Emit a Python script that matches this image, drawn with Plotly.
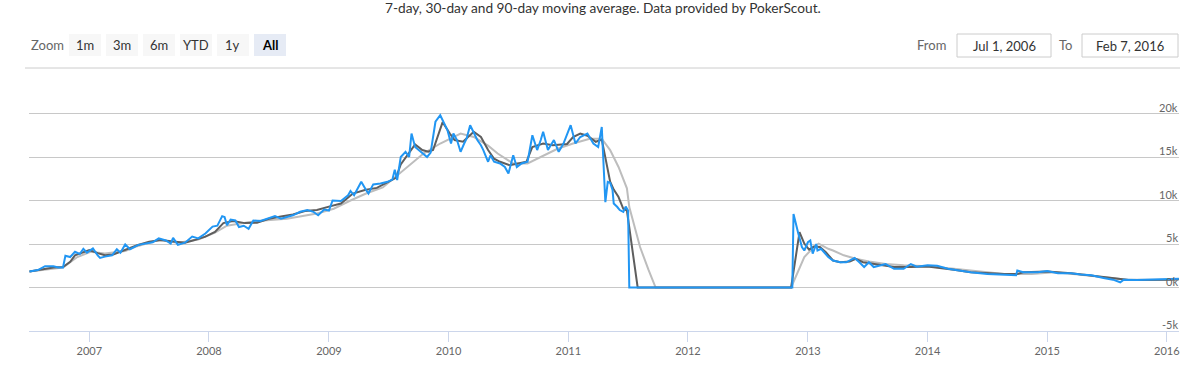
import datetime as dt
import plotly.graph_objects as go

# ---------------- data (decimal year, value) ----------------
blue_t = [2006.50, 2006.57, 2006.63, 2006.70, 2006.74, 2006.78, 2006.80, 2006.84, 2006.88, 2006.92,
          2006.95, 2006.98, 2007.01, 2007.03, 2007.07, 2007.09, 2007.13, 2007.19, 2007.23, 2007.26,
          2007.30, 2007.34, 2007.41, 2007.47, 2007.53, 2007.58, 2007.64, 2007.68, 2007.70, 2007.74,
          2007.80, 2007.86, 2007.91, 2007.97, 2008.03, 2008.07, 2008.11, 2008.13, 2008.15, 2008.18,
          2008.22, 2008.25, 2008.29, 2008.33, 2008.37, 2008.43, 2008.51, 2008.55, 2008.60, 2008.65,
          2008.70, 2008.76, 2008.82, 2008.87, 2008.91, 2008.96, 2009.00, 2009.03, 2009.10, 2009.16,
          2009.18, 2009.21, 2009.27, 2009.31, 2009.33, 2009.37, 2009.43, 2009.49, 2009.53, 2009.55,
          2009.57, 2009.60, 2009.64, 2009.67, 2009.69, 2009.72, 2009.77, 2009.82, 2009.85, 2009.89,
          2009.93, 2009.95, 2009.99, 2010.02, 2010.04, 2010.07, 2010.10, 2010.13, 2010.15, 2010.18,
          2010.21, 2010.24, 2010.27, 2010.29, 2010.33, 2010.35, 2010.38, 2010.43, 2010.47, 2010.50,
          2010.54, 2010.57, 2010.61, 2010.66, 2010.70, 2010.74, 2010.77, 2010.79, 2010.83, 2010.88,
          2010.92, 2010.96, 2011.02, 2011.06, 2011.10, 2011.16, 2011.21, 2011.25, 2011.28, 2011.29,
          2011.31, 2011.33, 2011.35, 2011.37, 2011.38, 2011.41, 2011.43, 2011.46, 2011.48, 2011.50,
          2011.51, 2012.87, 2012.88, 2012.92, 2012.95, 2012.97, 2013.00, 2013.02, 2013.04, 2013.07,
          2013.08, 2013.11, 2013.17, 2013.21, 2013.27, 2013.32, 2013.39, 2013.43, 2013.47, 2013.51,
          2013.55, 2013.61, 2013.65, 2013.72, 2013.80, 2013.86, 2013.91, 2014.00, 2014.08, 2014.17,
          2014.25, 2014.36, 2014.50, 2014.64, 2014.74, 2014.75, 2014.80, 2014.92, 2015.00, 2015.09,
          2015.20, 2015.28, 2015.37, 2015.47, 2015.55, 2015.61, 2015.64, 2015.75, 2015.87, 2015.95,
          2016.03, 2016.10]
blue_v = [1850, 2000, 2450, 2450, 2300, 2300, 3650, 3500, 4100, 3850,
          4450, 4000, 4300, 4500, 3700, 3400, 3550, 3700, 4400, 4000,
          4950, 4400, 4900, 5050, 5200, 5650, 5400, 5050, 5700, 4900,
          5150, 5850, 5650, 6200, 7000, 7100, 8200, 8100, 7150, 7800,
          7700, 6950, 7100, 6750, 7700, 7650, 8050, 8200, 7900, 8100,
          8300, 8700, 8900, 8700, 8300, 8950, 8850, 10000, 9950, 10600,
          11100, 10600, 12150, 11200, 10800, 11850, 11950, 12150, 12400, 13550,
          12350, 15000, 15600, 15000, 17700, 16150, 15600, 15000, 15500, 19050,
          19800, 19250, 18100, 16550, 17700, 16950, 15600, 16550, 17100, 18650,
          17700, 16950, 16350, 15800, 14450, 15200, 14450, 14250, 13850, 13100,
          15200, 13850, 14250, 14450, 17500, 15800, 16950, 17900, 15800, 16950,
          15600, 16550, 18650, 16550, 17300, 17700, 16550, 16150, 18450, 15000,
          9800, 12150, 12050, 11200, 9650, 9250, 8900, 8700, 9300, 8850,
          0, 0, 8450, 6200, 4650, 4250, 5200, 5400, 3900, 5000,
          4250, 4450, 3500, 3100, 2900, 2900, 3400, 2900, 2350, 2900,
          2350, 2550, 2700, 2150, 2150, 2700, 2400, 2550, 2500, 2150,
          1950, 1750, 1550, 1500, 1400, 1950, 1750, 1750, 1900, 1650,
          1650, 1500, 1400, 1100, 900, 600, 900, 850, 900, 900,
          1000, 1000]

dark_t = [2006.50, 2006.60, 2006.70, 2006.78, 2006.84, 2006.88, 2007.00, 2007.07, 2007.13, 2007.20,
          2007.30, 2007.40, 2007.50, 2007.60, 2007.70, 2007.80, 2007.88, 2007.97, 2008.05, 2008.12,
          2008.20, 2008.30, 2008.40, 2008.50, 2008.60, 2008.70, 2008.80, 2008.90, 2009.00, 2009.10,
          2009.20, 2009.30, 2009.40, 2009.50, 2009.56, 2009.60, 2009.66, 2009.72, 2009.78, 2009.83,
          2009.87, 2009.93, 2009.95, 2010.01, 2010.05, 2010.12, 2010.21, 2010.27, 2010.33, 2010.38,
          2010.43, 2010.51, 2010.59, 2010.65, 2010.70, 2010.79, 2010.87, 2010.99, 2011.04, 2011.10,
          2011.16, 2011.23, 2011.28, 2011.31, 2011.35, 2011.38, 2011.42, 2011.46, 2011.49, 2011.58,
          2012.86, 2012.93, 2012.97, 2013.01, 2013.05, 2013.10, 2013.15, 2013.21, 2013.27, 2013.35,
          2013.40, 2013.46, 2013.58, 2013.72, 2013.86, 2014.00, 2014.22, 2014.36, 2014.64, 2014.75,
          2014.80, 2015.00, 2015.20, 2015.37, 2015.56, 2015.68, 2015.81, 2016.03, 2016.10]
dark_v = [1850, 2100, 2300, 2350, 2950, 3700, 4300, 3950, 3700, 3800,
          4300, 4850, 5250, 5450, 5300, 5150, 5450, 5850, 6400, 7400,
          7650, 7400, 7450, 7900, 8150, 8400, 8800, 8900, 9300, 9650,
          10800, 11200, 11450, 12200, 12600, 14150, 15300, 16450, 15800, 15600,
          15800, 18100, 19000, 17700, 16950, 16750, 17900, 17300, 15800, 14800,
          14450, 14050, 14250, 14450, 16150, 16550, 16350, 16500, 17300, 17700,
          17450, 16750, 17000, 14800, 12150, 11250, 10400, 9050, 8850, 0,
          0, 6350, 5050, 4350, 4700, 4650, 4050, 3100, 2900, 3000,
          3300, 2900, 2650, 2350, 2350, 2400, 2050, 1750, 1550, 1550,
          1750, 1850, 1650, 1400, 1050, 850, 850, 900, 950]

light_t = [2006.50, 2006.78, 2006.90, 2007.01, 2007.13, 2007.30, 2007.40, 2007.58, 2007.74, 2007.91,
           2008.05, 2008.15, 2008.37, 2008.65, 2008.90, 2009.04, 2009.18, 2009.31, 2009.45, 2009.52,
           2009.58, 2009.66, 2009.79, 2009.93, 2010.10, 2010.21, 2010.33, 2010.41, 2010.49, 2010.54,
           2010.66, 2010.77, 2010.91, 2011.04, 2011.18, 2011.28, 2011.35, 2011.42, 2011.49, 2011.51,
           2011.60, 2011.67, 2011.73, 2012.86, 2012.91, 2012.97, 2013.05, 2013.09, 2013.17, 2013.21,
           2013.30, 2013.40, 2013.51, 2013.65, 2013.80, 2014.00, 2014.22, 2014.42, 2014.64, 2014.87,
           2015.06, 2015.26, 2015.47, 2015.67, 2015.89, 2016.03, 2016.10]
light_v = [1850, 2300, 3500, 4100, 3900, 4200, 4750, 5450, 5150, 5500,
           6300, 7100, 7600, 7900, 8500, 9050, 10000, 10800, 11500, 12300,
           13000, 13850, 15400, 16550, 17700, 17300, 16300, 15400, 14650, 14250,
           14250, 15000, 15950, 16550, 17100, 17100, 15800, 13850, 11400, 9250,
           4650, 2050, 0, 0, 1600, 3500, 4650, 5050, 4450, 4250,
           3700, 3300, 3000, 2700, 2550, 2450, 2150, 1900, 1550, 1550,
           1750, 1500, 1200, 900, 900, 950, 950]

x_tick_years = [2007, 2008, 2009, 2010, 2011, 2012, 2013, 2014, 2015, 2016]
y_tick_vals = [-5000, 0, 5000, 10000, 15000, 20000]
y_tick_text = ["-5k", "0k", "5k", "10k", "15k", "20k"]
zoom_buttons = ["1m", "3m", "6m", "YTD", "1y", "All"]
date_from = "Jul 1, 2006"
date_to = "Feb 7, 2016"
subtitle = "7-day, 30-day and 90-day moving average. Data provided by PokerScout."


def to_date(y):
    year = int(y)
    start = dt.datetime(year, 1, 1)
    days = (dt.datetime(year + 1, 1, 1) - start).days
    return start + dt.timedelta(days=(y - year) * days)


FONT = "Lato"
fig = go.Figure()
for t, v, color in [(light_t, light_v, "#bdbdbd"),
                    (dark_t, dark_v, "#5e5e5e"),
                    (blue_t, blue_v, "#2196f3")]:
    fig.add_trace(go.Scatter(x=[to_date(a) for a in t], y=v, mode="lines",
                             line=dict(color=color, width=2), hoverinfo="skip",
                             showlegend=False))

W, H = 1184, 385
L, R, T, B = 29, 5, 70, 54
PW, PH = W - L - R, H - T - B

fig.update_layout(
    width=W, height=H, margin=dict(l=L, r=R, t=T, b=B),
    paper_bgcolor="white", plot_bgcolor="white",
    font=dict(family=FONT, color="#666666", size=11),
    xaxis=dict(range=[dt.datetime(2006, 7, 1), dt.datetime(2016, 2, 7)],
               type="date",
               tickvals=[dt.datetime(yv, 1, 1) for yv in x_tick_years],
               ticktext=[str(yv) for yv in x_tick_years],
               showgrid=False, showline=True, linecolor="#ccd6eb", linewidth=1,
               ticks="outside", ticklen=10, tickcolor="#ccd6eb",
               tickfont=dict(size=11, color="#666666"), zeroline=False),
    yaxis=dict(range=[-5000, 25000], side="right", tickvals=y_tick_vals,
               showticklabels=False,
               showgrid=True, gridcolor="#c8c8c8", gridwidth=1, zeroline=False,
               showline=False),
)


def px(x):
    return (x - L) / PW


def py(y):
    return (H - B - y) / PH


shapes = []
annotations = []
# y-axis labels, right-aligned just above their grid lines
for v, t in zip(y_tick_vals, y_tick_text):
    annotations.append(dict(xref="paper", yref="y", x=1.0, y=v, text=t, showarrow=False,
                            xanchor="right", yanchor="bottom", xshift=1, yshift=-2,
                            font=dict(size=11, color="#666666", family=FONT)))
# subtitle
annotations.append(dict(xref="paper", yref="paper", x=px(603), y=py(7.5), text=subtitle,
                        showarrow=False, xanchor="center", yanchor="middle",
                        font=dict(size=13.7, color="#333333", family=FONT)))
# zoom label
annotations.append(dict(xref="paper", yref="paper", x=px(29), y=py(45), text="Zoom",
                        showarrow=False, xanchor="left", yanchor="middle",
                        font=dict(size=13, color="#666666", family=FONT)))
for i, lab in enumerate(zoom_buttons):
    x0 = 69 + i * 37
    x1 = x0 + 32
    sel = lab == "All"
    shapes.append(dict(type="rect", xref="paper", yref="paper", x0=px(x0), x1=px(x1),
                       y0=py(56), y1=py(34), fillcolor="#e6ebf5" if sel else "#f7f7f7",
                       line=dict(width=0), layer="below"))
    annotations.append(dict(xref="paper", yref="paper", x=px((x0 + x1) / 2), y=py(45),
                            text=f"<b>{lab}</b>" if sel else lab, showarrow=False,
                            xanchor="center", yanchor="middle",
                            font=dict(size=13, color="#000000" if sel else "#333333", family=FONT)))
# from / to
annotations.append(dict(xref="paper", yref="paper", x=px(948), y=py(45), text="From",
                        showarrow=False, xanchor="right", yanchor="middle",
                        font=dict(size=13, color="#666666", family=FONT)))
annotations.append(dict(xref="paper", yref="paper", x=px(1074), y=py(45), text="To",
                        showarrow=False, xanchor="right", yanchor="middle",
                        font=dict(size=13, color="#666666", family=FONT)))
for (x0, x1, txt) in [(957, 1051, date_from), (1082, 1178, date_to)]:
    shapes.append(dict(type="rect", xref="paper", yref="paper", x0=px(x0), x1=px(x1),
                       y0=py(57), y1=py(34), fillcolor="white",
                       line=dict(width=1, color="#cccccc"), layer="below"))
    annotations.append(dict(xref="paper", yref="paper", x=px((x0 + x1) / 2), y=py(45.5),
                            text=txt, showarrow=False, xanchor="center", yanchor="middle",
                            font=dict(size=13, color="#333333", family=FONT)))
# separator line
shapes.append(dict(type="line", xref="paper", yref="paper", x0=px(25), x1=px(1180),
                   y0=py(68), y1=py(68), line=dict(color="#cccccc", width=1)))

fig.update_layout(shapes=shapes, annotations=annotations)
fig.write_html("out.html", config={"displayModeBar": False},
               post_script="document.body.style.margin='0';document.body.style.overflow='hidden';")
